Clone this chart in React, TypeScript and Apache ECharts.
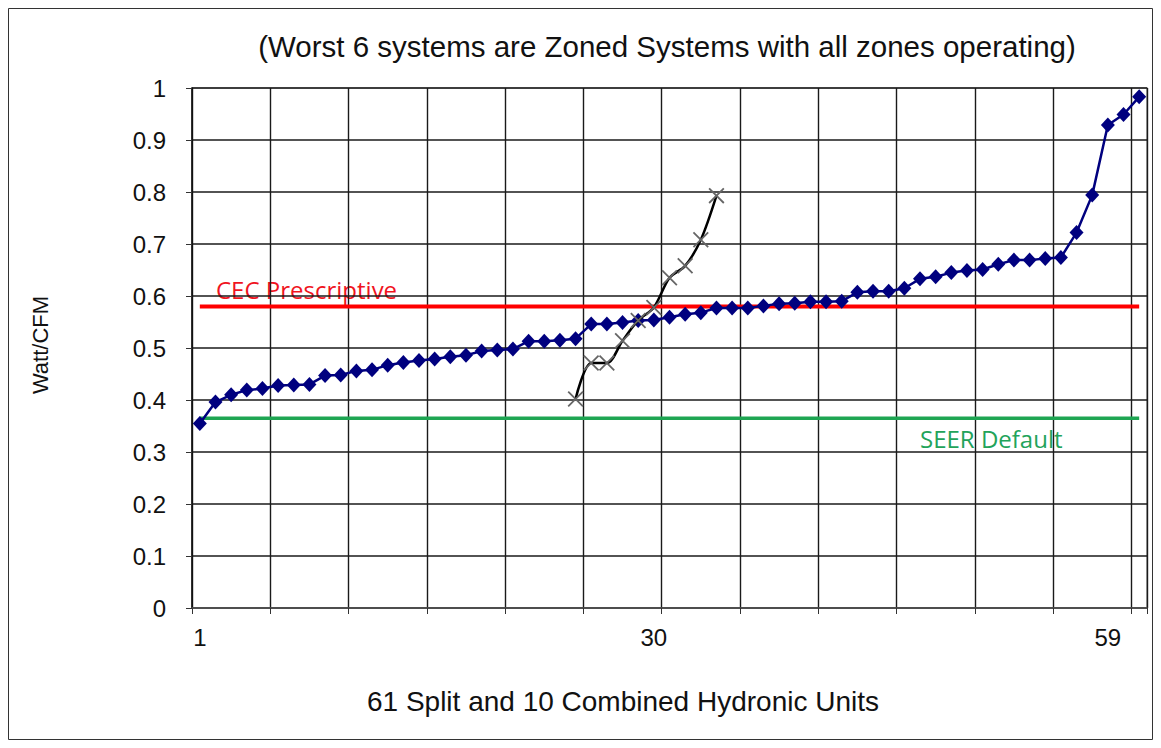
import React, { useEffect, useRef } from "react";
import * as echarts from "echarts";

// ---- data ----
const unitCount = 61;
const categories: string[] = Array.from({ length: unitCount }, (_, i) => String(i + 1));

const splitUnits: number[] = [
  0.355, 0.396, 0.41, 0.419, 0.422, 0.428, 0.429, 0.43, 0.447, 0.448,
  0.456, 0.458, 0.467, 0.472, 0.476, 0.479, 0.483, 0.486, 0.494, 0.496,
  0.498, 0.513, 0.513, 0.515, 0.518, 0.546, 0.546, 0.549, 0.553, 0.554,
  0.559, 0.565, 0.568, 0.577, 0.577, 0.577, 0.581, 0.585, 0.586, 0.589,
  0.589, 0.59, 0.607, 0.609, 0.609, 0.615, 0.633, 0.637, 0.645, 0.649,
  0.651, 0.661, 0.669, 0.669, 0.672, 0.674, 0.722, 0.794, 0.929, 0.949,
  0.983,
];

const hydronicCategories: string[] = ["25", "26", "27", "28", "29", "30", "31", "32", "33", "34"];
const hydronicUnits: number[] = [0.402, 0.471, 0.471, 0.514, 0.553, 0.578, 0.635, 0.658, 0.708, 0.793];

const cecPrescriptive = 0.58;
const seerDefault = 0.365;

const titleText = "(Worst 6 systems are Zoned Systems with all zones operating)";
const xName = "61 Split and 10 Combined Hydronic Units";
const yName = "Watt/CFM";
const xLabelIndices = [0, 29, 58];

const crossSymbol =
  "path://M0,0.8L0.8,0L10,9.2L9.2,10Z M9.2,0L10,0.8L0.8,10L0,9.2Z";

export default function App() {
  const ref = useRef<HTMLDivElement>(null);
  useEffect(() => {
    if (!ref.current) return;
    const chart = echarts.init(ref.current, null, { renderer: "svg" });
    const option: any = {
      animation: false,
      backgroundColor: "#ffffff",
      grid: {
        left: 184,
        right: 6,
        top: 80,
        bottom: 132,
        show: true,
        borderColor: "#8a8a8a",
        borderWidth: 1.5,
        backgroundColor: "transparent",
      },
      xAxis: {
        type: "category",
        data: categories,
        boundaryGap: true,
        axisLine: { show: true, lineStyle: { color: "#555", width: 1.5 } },
        axisTick: {
          show: true,
          length: 6,
          interval: (i: number) => i % 5 === 0,
          lineStyle: { color: "#333" },
        },
        axisLabel: {
          interval: (i: number) => xLabelIndices.includes(i),
          fontFamily: "Liberation Sans, Arial, sans-serif",
          fontSize: 24,
          color: "#111",
          margin: 17,
        },
        splitLine: {
          show: true,
          interval: (i: number) => i % 5 === 0,
          lineStyle: { color: "#1a1a1a", width: 1.4 },
        },
      },
      yAxis: {
        type: "value",
        min: 0,
        max: 1,
        interval: 0.1,
        axisLine: { show: true, lineStyle: { color: "#111", width: 1.5 } },
        axisTick: { show: true, length: 6, lineStyle: { color: "#333" } },
        axisLabel: {
          fontFamily: "Liberation Sans, Arial, sans-serif",
          fontSize: 24,
          color: "#111",
          margin: 26,
        },
        splitLine: { show: true, lineStyle: { color: "#1a1a1a", width: 1.6 } },
      },
      graphic: [
        {
          type: "rect",
          shape: { x: 0.5, y: 0.5, width: 1144, height: 731 },
          style: { fill: "none", stroke: "#333", lineWidth: 1 },
          silent: true,
        },
        {
          type: "text",
          x: 659,
          y: 38,
          style: {
            text: titleText,
            fontFamily: "Liberation Sans, Arial, sans-serif",
            fontSize: 29.5,
            fill: "#111",
            align: "center",
            verticalAlign: "middle",
          },
        },
        {
          type: "text",
          x: 615,
          y: 693,
          style: {
            text: xName,
            fontFamily: "Liberation Sans, Arial, sans-serif",
            fontSize: 28,
            fill: "#111",
            align: "center",
            verticalAlign: "middle",
          },
        },
        {
          type: "text",
          x: 32,
          y: 337,
          rotation: Math.PI / 2,
          style: {
            text: yName,
            fontFamily: "Liberation Sans, Arial, sans-serif",
            fontSize: 22,
            fill: "#111",
            align: "center",
            verticalAlign: "middle",
          },
        },
        {
          type: "text",
          x: 208,
          y: 281,
          style: {
            text: "CEC Prescriptive",
            fontFamily: "Open Sans, Noto Sans, sans-serif",
            fontSize: 24,
            fill: "#f0141e",
            align: "left",
            verticalAlign: "middle",
          },
        },
        {
          type: "text",
          x: 912,
          y: 430,
          style: {
            text: "SEER Default",
            fontFamily: "Open Sans, Noto Sans, sans-serif",
            fontSize: 24,
            fill: "#22a35a",
            align: "left",
            verticalAlign: "middle",
          },
        },
      ],
      series: [
        {
          name: "SEER Default",
          type: "line",
          data: categories.map(() => seerDefault),
          symbol: "none",
          lineStyle: { color: "#1ea552", width: 3.5 },
          z: 3,
        },
        {
          name: "CEC Prescriptive",
          type: "line",
          data: categories.map(() => cecPrescriptive),
          symbol: "none",
          lineStyle: { color: "#ff0000", width: 4 },
          z: 3,
        },
        {
          name: "Split Units",
          type: "line",
          data: splitUnits,
          symbol: "diamond",
          symbolSize: [14, 15],
          showAllSymbol: true,
          itemStyle: { color: "#00007f" },
          lineStyle: { color: "#00007f", width: 2.5 },
          z: 4,
        },
        {
          name: "Hydronic Units",
          type: "line",
          data: hydronicCategories.map((c, i) => [c, hydronicUnits[i]]),
          smooth: 0.3,
          symbol: crossSymbol,
          symbolSize: 16,
          showAllSymbol: true,
          itemStyle: { color: "#666" },
          lineStyle: { color: "#000", width: 2.5 },
          z: 5,
        },
      ],
    };
    chart.setOption(option);
    return () => chart.dispose();
  }, []);
  return <div ref={ref} style={{ width: 1145, height: 732 }} />;
}
